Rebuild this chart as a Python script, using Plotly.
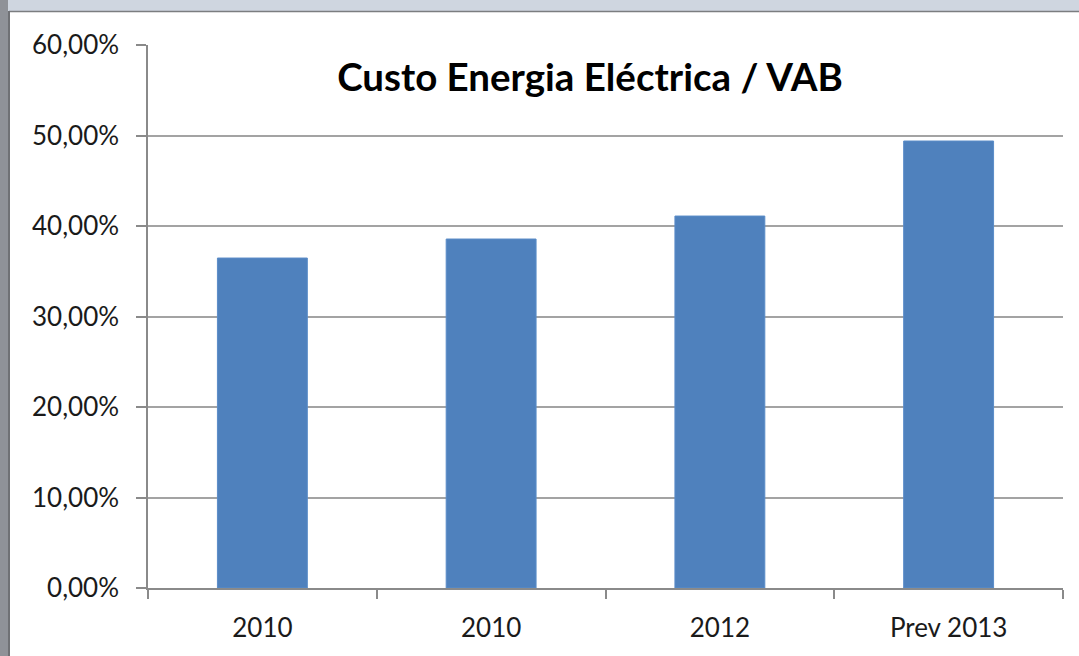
import plotly.graph_objects as go

categories = ["2010", "2010 ", "2012", "Prev 2013"]
tick_labels = ["2010", "2010", "2012", "Prev 2013"]
values = [0.3646, 0.3856, 0.4110, 0.4939]
title_text = "Custo Energia Eléctrica / VAB"

W, H = 1079, 656
L, R, T, B = 148, 16, 45, 68
pw, ph = W - L - R, H - T - B

def px_x(px):
    return (px - L) / pw

def px_y(py):
    return (H - B - py) / ph

fig = go.Figure(go.Bar(
    x=categories, y=values,
    marker=dict(color="#4f81bd", line=dict(color="#5a8cc8", width=1)),
    width=0.393,
))

shapes = [
    # top band
    dict(type="rect", xref="paper", yref="paper", x0=px_x(0), x1=px_x(W), y0=px_y(0), y1=px_y(11),
         fillcolor="#cfd6e0", line=dict(width=0), layer="above"),
    dict(type="line", xref="paper", yref="paper", x0=px_x(9), x1=px_x(W), y0=px_y(11.5), y1=px_y(11.5),
         line=dict(color="#7b7d80", width=1.5), layer="above"),
    # left band
    dict(type="rect", xref="paper", yref="paper", x0=px_x(0), x1=px_x(8), y0=px_y(0), y1=px_y(H),
         fillcolor="#8f9298", line=dict(width=0), layer="above"),
    dict(type="line", xref="paper", yref="paper", x0=px_x(9), x1=px_x(9), y0=px_y(11), y1=px_y(H),
         line=dict(color="#6f7175", width=2), layer="above"),
]

fig.update_layout(
    width=W, height=H,
    margin=dict(l=L, r=R, t=T, b=B, pad=0),
    paper_bgcolor="white", plot_bgcolor="white",
    separators=",.",
    font=dict(family="Lato, 'Open Sans', sans-serif", color="#1a1a1a", size=26),
    title=dict(text="<b>" + title_text + "</b>", x=590 / W, xanchor="center",
               y=1 - 78 / H, yanchor="middle", xref="container", yref="container",
               font=dict(size=38.5, color="#000000", family="Lato, 'Open Sans', sans-serif")),
    showlegend=False,
    bargap=0.6,
    shapes=shapes,
)

fig.update_yaxes(
    range=[0, 0.6], dtick=0.1, tickformat=".2%",
    showgrid=True, gridcolor="#a3a3a3", gridwidth=1.5,
    showline=True, linecolor="#8a8a8a", linewidth=1.5,
    ticks="outside", ticklen=10, tickcolor="#8a8a8a", tickwidth=1.5,
    zeroline=False, ticklabelstandoff=12,
    tickfont=dict(size=26, color="#1a1a1a"),
)
fig.update_xaxes(
    tickmode="array", tickvals=categories, ticktext=tick_labels,
    showline=True, linecolor="#8a8a8a", linewidth=1.5,
    ticks="outside", tickson="boundaries", ticklen=9, tickcolor="#8a8a8a", tickwidth=1.5,
    showgrid=False, ticklabelstandoff=16,
    tickfont=dict(size=26, color="#1a1a1a"),
)

fig.write_html("out.html", config={"displayModeBar": False},
               post_script="document.body.style.margin='0';document.body.style.overflow='hidden';")
